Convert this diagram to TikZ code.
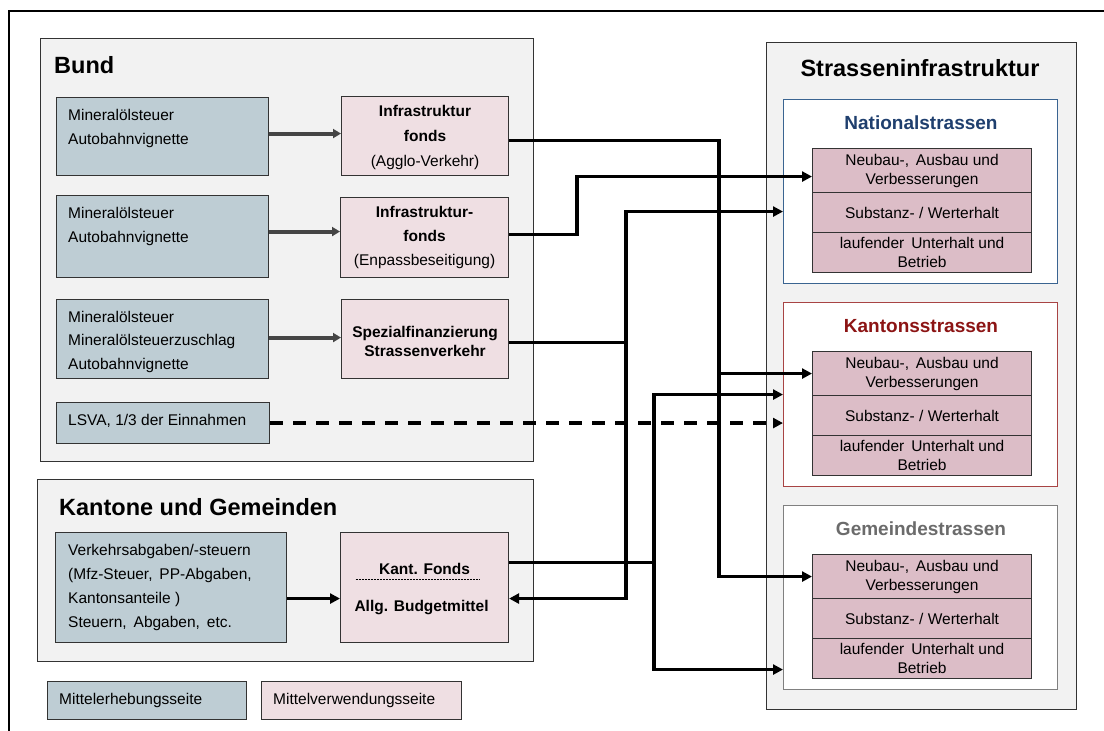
\documentclass[tikz,border=0pt]{standalone}
\usepackage{fontspec}
\setmainfont{Liberation Sans}
\usetikzlibrary{arrows.meta}

\definecolor{srcblue}{HTML}{BECDD4}
\definecolor{usepink}{HTML}{EFDFE3}
\definecolor{rowpink}{HTML}{DCBDC7}
\definecolor{panel}{HTML}{F2F2F2}
\definecolor{edge}{HTML}{333333}
\definecolor{grayflow}{HTML}{454545}
\definecolor{natLine}{HTML}{3A6491}
\definecolor{natText}{HTML}{1F3F6E}
\definecolor{kantLine}{HTML}{A84444}
\definecolor{kantText}{HTML}{8C1414}
\definecolor{gemLine}{HTML}{808080}
\definecolor{gemText}{HTML}{6B6B6B}

\begin{document}
\begin{tikzpicture}[x=1pt,y=-1pt,
  panelbox/.style={draw=edge, fill=panel, line width=1.1pt, anchor=north west, inner sep=0pt},
  srcbox/.style={draw=edge, fill=srcblue, line width=1.1pt, anchor=north west, inner sep=0pt},
  usebox/.style={draw=edge, fill=usepink, line width=1.1pt, anchor=north west, inner sep=0pt},
  roadbox/.style={fill=white, line width=1.1pt, anchor=north west, inner sep=0pt,
                  minimum width=274pt, minimum height=184pt},
  rowbox/.style={draw=edge, fill=rowpink, line width=1.1pt, anchor=north west, inner sep=0pt,
                 minimum width=219pt, align=center, font=\fontsize{15.5}{19}\selectfont},
  body/.style={inner sep=0pt, font=\fontsize{15.5}{24}\selectfont},
  bodyl/.style={body, align=left, anchor=north west},
  title/.style={inner sep=0pt, font=\fontsize{23.5}{28}\selectfont\bfseries},
  subtitle/.style={inner sep=0pt, font=\fontsize{19}{23}\selectfont\bfseries},
  conn/.style={line width=3.3pt, draw=black},
  arr/.style={-{Triangle[length=10pt,width=10pt]}},
  grayarr/.style={line width=4pt, draw=grayflow, -{Triangle[length=8pt,width=9pt]}},
  dashconn/.style={line width=3.5pt, draw=black, dash pattern=on 13pt off 10pt}
]
\useasboundingbox (0,0) rectangle (1104,731);
\fill[white] (0,0) rectangle (1104,731);

% frame
\draw[line width=1.2pt] (9,731) -- (9,11) -- (1104,11);

% ---------- Bund ----------
\node[panelbox, minimum width=493pt, minimum height=423pt] (bund) at (40,38) {};
\node[title, anchor=west] (bundT) at (54,65) {Bund};

\node[srcbox, minimum width=212pt, minimum height=78pt] (b1) at (56,97) {};
\node[bodyl] (b1t) at (68,109) {Mineralölsteuer\\Autobahnvignette};
\node[usebox, minimum width=167pt, minimum height=79pt] (p1) at (341,96) {};
\node[body, align=center, font=\fontsize{15.5}{25}\selectfont] (p1t) at ([yshift=-1.5pt]p1.center)
  {\textbf{Infrastruktur}\\\textbf{fonds}\\(Agglo-Verkehr)};

\node[srcbox, minimum width=212pt, minimum height=82pt] (b2) at (56,195) {};
\node[bodyl] (b2t) at (68,207) {Mineralölsteuer\\Autobahnvignette};
\node[usebox, minimum width=168pt, minimum height=80pt] (p2) at (340,197) {};
\node[body, align=center, font=\fontsize{15.5}{24}\selectfont] (p2t) at (p2.center)
  {\textbf{Infrastruktur-}\\\textbf{fonds}\\(Enpassbeseitigung)};

\node[srcbox, minimum width=212pt, minimum height=79pt] (b3) at (56,299) {};
\node[bodyl, font=\fontsize{15.5}{23.5}\selectfont] (b3t) at (68,311)
  {Mineralölsteuer\\Mineralölsteuerzuschlag\\Autobahnvignette};
\node[usebox, minimum width=167pt, minimum height=79pt] (p3) at (341,299) {};
\node[body, align=center, font=\fontsize{15.5}{19}\selectfont\bfseries] (p3t) at ([yshift=-2pt]p3.center)
  {Spezialfinanzierung\\Strassenverkehr};

\node[srcbox, minimum width=213pt, minimum height=41pt] (lsva) at (56,402) {};
\node[body, anchor=west] (lsvat) at (68,421) {LSVA, 1/3 der Einnahmen};

% ---------- Kantone und Gemeinden ----------
\node[panelbox, minimum width=496pt, minimum height=182pt] (kg) at (37,479) {};
\node[title, anchor=west] (kgT) at (59,507) {Kantone und Gemeinden};

\node[srcbox, minimum width=231pt, minimum height=110pt] (bK) at (55,532) {};
\node[bodyl] (bKt) at (68,544)
  {Verkehrsabgaben/-steuern\\(Mfz-Steuer,\, PP-Abgaben,\\Kantonsanteile )\\Steuern,\, Abgaben,\, etc.};
\node[usebox, minimum width=168pt, minimum height=110pt] (pK) at (340,532) {};
\node[body, font=\fontsize{15.5}{19}\selectfont\bfseries] (pKa) at ([yshift=19pt]pK.center) {Kant. Fonds};
\node[body, font=\fontsize{15.5}{19}\selectfont\bfseries] (pKb) at ([xshift=-3pt,yshift=-20pt]pK.center) {Allg. Budgetmittel};
\draw[line width=0.8pt, dash pattern=on 2pt off 1pt]
  ([xshift=-69pt,yshift=8pt]pK.center) -- ([xshift=55pt,yshift=8pt]pK.center);

% ---------- legend ----------
\node[srcbox, minimum width=199pt, minimum height=38pt] (legA) at (47,681) {};
\node[body, anchor=west] (legAt) at (59,700) {Mittelerhebungsseite};
\node[usebox, minimum width=200pt, minimum height=38pt] (legB) at (261,681) {};
\node[body, anchor=west] (legBt) at (273,700) {Mittelverwendungsseite};

% ---------- Strasseninfrastruktur ----------
\node[panelbox, minimum width=310pt, minimum height=667pt] (infra) at (766,42) {};
\node[title] (infraT) at (920,68) {Strasseninfrastruktur};

\foreach \k/\top/\name/\tc/\lc in {nat/99/Nationalstrassen/natText/natLine,
                                   kant/302/Kantonsstrassen/kantText/kantLine,
                                   gem/505/Gemeindestrassen/gemText/gemLine}{
  \node[roadbox, draw=\lc] (\k box) at (783,\top) {};
  \node[subtitle, text=\tc] (\k T) at (921,\top+24) {\name};
  \node[rowbox, minimum height=44pt] (\k N1) at (812,\top+49) {Neubau-,\, Ausbau und\\Verbesserungen};
  \node[rowbox, minimum height=40pt] (\k N2) at (812,\top+93) {Substanz- / Werterhalt};
  \node[rowbox, minimum height=40pt] (\k N3) at (812,\top+133) {laufender\, Unterhalt und\\Betrieb};
}

% ---------- flows inside the panels ----------
\coordinate (g1) at ([yshift=3pt]b1.east);
\coordinate (g2) at ([yshift=5pt]b2.east);
\coordinate (g3) at ([yshift=1.5pt]b3.east);
\draw[grayarr] (g1) -- (g1 -| p1.west);
\draw[grayarr] (g2) -- (g2 -| p2.west);
\draw[grayarr] (g3) -- (g3 -| p3.west);

\coordinate (gK) at ([yshift=-11pt]bK.east);
\draw[conn, arr] (gK) -- (gK -| pK.west);

% ---------- flows to the roads ----------
\coordinate (busA) at (719,0);
\coordinate (busB) at (577,0);
\coordinate (busC) at (626,0);
\coordinate (busE) at (654,0);

\coordinate (aOut) at ([yshift=-4.5pt]p1.east);
\coordinate (bOut) at ([yshift=3pt]p2.east);
\coordinate (cOut) at ([yshift=-3.5pt]p3.east);
\coordinate (eOut) at ([yshift=25pt]pK.east);
\coordinate (kfIn) at ([yshift=-11pt]pK.east);
\coordinate (natIn1) at ([yshift=-6pt]natN1.west);
\coordinate (natIn2) at ([yshift=-20pt]natbox.west);
\coordinate (gemIn) at ([yshift=-72pt]gembox.west);

% Infrastrukturfonds (Agglo-Verkehr)
\draw[conn, arr] (aOut) -| (busA |- kantN1.west) -- (kantN1.west);
\draw[conn, arr] (busA |- kantN1.west) |- (gemN1.west);

% Infrastrukturfonds (Engpassbeseitigung)
\draw[conn, arr] (bOut) -| (busB |- natIn1) -- (natIn1);

% Spezialfinanzierung Strassenverkehr
\draw[conn, arr] (cOut) -| (busC |- natIn2) -- (natIn2);
\draw[conn, arr] (busC |- cOut) |- (kfIn);

% LSVA
\draw[dashconn, arr] (lsva.east) -- (lsva.east -| kantbox.west);

% Kant. Fonds / Allg. Budgetmittel
\draw[conn, arr] (eOut) -| (busE |- kantbox.west) -- (kantbox.west);
\draw[conn, arr] (busE |- eOut) |- (gemIn);

\end{tikzpicture}
\end{document}
